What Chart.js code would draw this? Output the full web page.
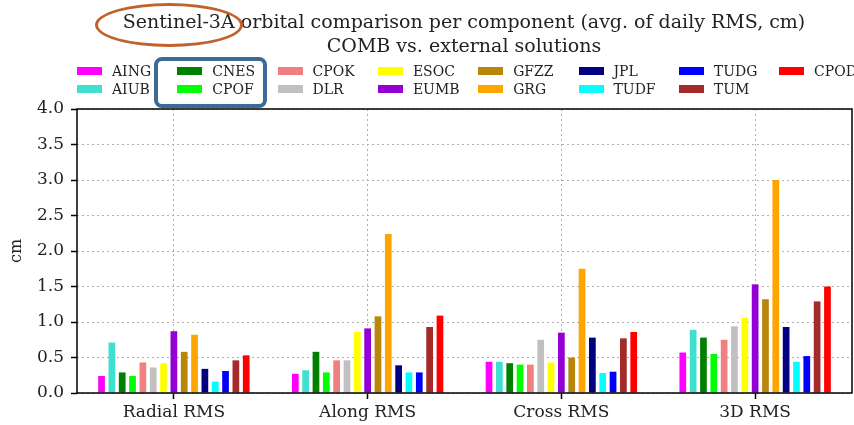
<!DOCTYPE html>
<html>
<head>
<meta charset="utf-8">
<script src="https://cdn.jsdelivr.net/npm/chart.js@4"></script>
<style>
  body { margin: 0; background: #fff; }
  #wrap { position: relative; width: 854px; height: 425px; font-family: "DejaVu Serif", serif; color: #222; }
  #chart { position: absolute; left: 0; top: 0; }
  .title { position: absolute; left: 0; width: 928px; text-align: center; font-size: 19px; white-space: nowrap; }
  .leg { position: absolute; font-size: 14px; white-space: nowrap; line-height: 16px; }
  .leg span { display: inline-block; width: 25px; height: 8px; margin-right: 10px; vertical-align: 1px; }
  #ellipse { position: absolute; left: 95px; top: 3px; width: 142px; height: 38px; border: 3px solid #c0622a; border-radius: 50%; }
  #box { position: absolute; left: 154px; top: 57px; width: 105px; height: 43px; border: 4px solid #3e6a96; border-radius: 8px; }
</style>
</head>
<body>
<div id="wrap">
  <canvas id="chart" width="854" height="425"></canvas>
  <div class="title" style="top:10px">Sentinel-3A orbital comparison per component (avg. of daily RMS, cm)</div>
  <div class="title" style="top:34px">COMB vs. external solutions</div>
  <div id="legend"></div>
  <div id="ellipse"></div>
  <div id="box"></div>
</div>
<script>
// categories and tick labels
const components = ['Radial RMS', 'Along RMS', 'Cross RMS', '3D RMS'];
const yTicks = [0.0, 0.5, 1.0, 1.5, 2.0, 2.5, 3.0, 3.5, 4.0];

// solutions (legend order, column-wise like matplotlib)
const solutions = ['AING', 'AIUB', 'CNES', 'CPOF', 'CPOK', 'DLR', 'ESOC', 'EUMB',
                   'GFZZ', 'GRG', 'JPL', 'TUDF', 'TUDG', 'TUM', 'CPOD'];
const colors = ['#ff00ff', '#40e0d0', '#008000', '#00ff00', '#f08080', '#c0c0c0', '#ffff00', '#9400d3',
                '#b8860b', '#ffa500', '#000080', '#00ffff', '#0000ff', '#a52a2a', '#ff0000'];

// avg. daily RMS per solution, cm  [Radial, Along, Cross, 3D]
const AING = [0.24, 0.27, 0.44, 0.57];
const AIUB = [0.71, 0.32, 0.44, 0.89];
const CNES = [0.29, 0.58, 0.42, 0.78];
const CPOF = [0.24, 0.29, 0.40, 0.55];
const CPOK = [0.43, 0.46, 0.40, 0.75];
const DLR  = [0.36, 0.46, 0.75, 0.94];
const ESOC = [0.42, 0.86, 0.43, 1.06];
const EUMB = [0.87, 0.91, 0.85, 1.53];
const GFZZ = [0.58, 1.08, 0.50, 1.32];
const GRG  = [0.82, 2.24, 1.75, 3.00];
const JPL  = [0.34, 0.39, 0.78, 0.93];
const TUDF = [0.16, 0.29, 0.28, 0.44];
const TUDG = [0.31, 0.29, 0.30, 0.52];
const TUM  = [0.46, 0.93, 0.77, 1.29];
const CPOD = [0.53, 1.09, 0.86, 1.50];
const values = [AING, AIUB, CNES, CPOF, CPOK, DLR, ESOC, EUMB, GFZZ, GRG, JPL, TUDF, TUDG, TUM, CPOD];

const serif = '"DejaVu Serif", serif';

// html legend, 8 columns x 2 rows filled column by column
const legend = document.getElementById('legend');
solutions.forEach((name, i) => {
    const col = Math.floor(i / 2), row = i % 2;
    const el = document.createElement('div');
    el.className = 'leg';
    el.style.left = (77 + col * 100.3) + 'px';
    el.style.top = (63 + row * 18) + 'px';
    el.innerHTML = `<span style="background:${colors[i]}"></span>${name}`;
    legend.appendChild(el);
});

// black frame round the plot area
const frame = {
    id: 'frame',
    afterDatasetsDraw(chart) {
        const {ctx, chartArea: a} = chart;
        ctx.save();
        ctx.strokeStyle = '#000';
        ctx.lineWidth = 1.5;
        ctx.strokeRect(a.left, a.top, a.right - a.left, a.bottom - a.top);
        ctx.restore();
    }
};

new Chart(document.getElementById('chart'), {
    type: 'bar',
    data: {
        labels: components,
        datasets: solutions.map((name, i) => ({
            label: name,
            data: values[i],
            backgroundColor: colors[i],
            borderWidth: 0,
            categoryPercentage: 0.8,
            barPercentage: 0.65
        }))
    },
    options: {
        responsive: false,
        devicePixelRatio: 1,
        animation: false,
        layout: { padding: { top: 109, right: 2, left: 0, bottom: 0 } },
        plugins: { legend: { display: false }, tooltip: { enabled: false } },
        scales: {
            x: {
                afterFit: s => { s.height = 32; },
                grid: {
                    offset: false, color: '#b0b0b0', lineWidth: 1,
                    tickLength: 6, tickColor: '#000', tickBorderDash: [], tickWidth: 1.5
                },
                border: { display: false, dash: [2, 3] },
                ticks: { color: '#222', font: { family: serif, size: 17 }, padding: 3 }
            },
            y: {
                min: 0, max: 4,
                afterFit: s => { s.width = 77; },
                afterBuildTicks: s => { s.ticks = yTicks.map(v => ({ value: v })); },
                grid: {
                    color: '#b0b0b0', lineWidth: 1,
                    tickLength: 6, tickColor: '#000', tickBorderDash: [], tickWidth: 1.5
                },
                border: { display: false, dash: [2, 3] },
                ticks: { color: '#222', font: { family: serif, size: 17 }, padding: 7,
                         callback: v => v.toFixed(1) },
                title: { display: true, text: 'cm', color: '#222', font: { family: serif, size: 16 }, padding: 7 }
            }
        }
    },
    plugins: [frame]
});
</script>
</body>
</html>
